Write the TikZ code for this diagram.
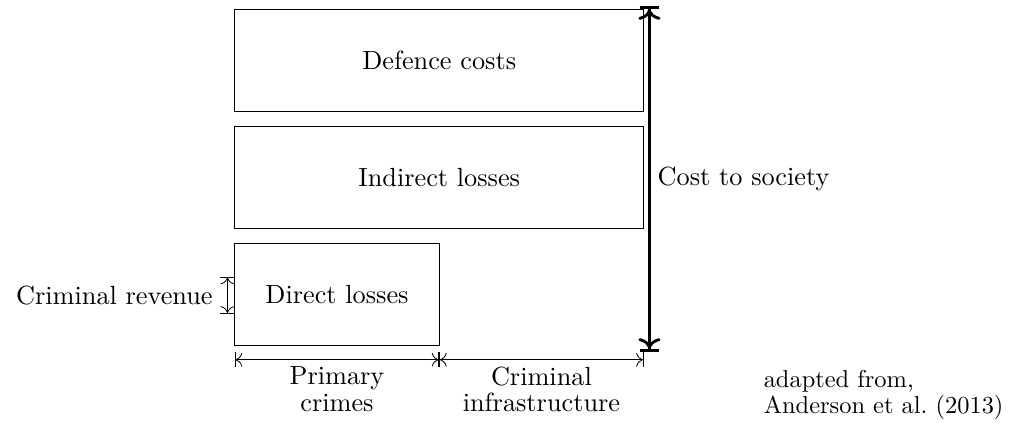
\documentclass[tikz,border=0pt]{standalone}
\usepackage{amsmath}
\usepackage{fontspec}
\setmainfont{lmroman10-regular.otf}
\usepackage{tikz}
\usetikzlibrary{arrows.meta}
\tikzstyle{costbox}=[rectangle, draw, minimum width=7cm, minimum height=1.75cm]
\tikzstyle{dimline}=[{Bar[width=7.5pt]To[scale=1.3]}-{To[scale=1.3]Bar[width=7.5pt]}]
\tikzstyle{totalline}=[line width=1.4pt, {Bar[width=9.5pt]To[scale=1.1]}-{To[scale=1.1]Bar[width=9.5pt]}]

\begin{document}
\begin{tikzpicture}[font=\fontsize{12.8}{12.7}\selectfont]
                    \useasboundingbox (-4.02,-1.46) rectangle (13.29,5.91);
                    \node[costbox] (defence)  at (3.5,  4.875) {Defence costs};
                    \node[costbox] (indirect) at (3.5,  2.875) {Indirect losses};
                    \node[costbox, minimum width=3.5cm] (direct) at (1.75, 0.875) {Direct losses};
                    % measures under the boxes
                    \coordinate (b0) at (0,   -0.25);
                    \coordinate (b1) at (3.5, -0.25);
                    \coordinate (b2) at (7,   -0.25);
                    \draw[dimline] (b0) -- node[below, align=center] (primary) {Primary\\crimes} (b1);
                    \draw[dimline] (b1) -- node[below, align=center] (infra) {Criminal\\infrastructure} (b2);
                    % revenue beside direct losses
                    \coordinate (r0) at (-0.125, 0.54);
                    \coordinate (r1) at (-0.125, 1.17);
                    \draw[dimline] (r0) -- node[left=0.13cm] (revenue) {Criminal revenue} (r1);
                    % total
                    \coordinate (c0) at (7.1, -0.11);
                    \coordinate (c1) at (7.1,  5.8);
                    \draw[totalline] (c0) -- node[right] (society) {Cost to society} (c1);
                    \node[anchor=north west, align=left, inner sep=0pt, font=\fontsize{11.9}{12.7}\selectfont] (source) at (9.05, -0.42) {adapted from,\\Anderson et al.\ (2013)};
                \end{tikzpicture}
\end{document}
